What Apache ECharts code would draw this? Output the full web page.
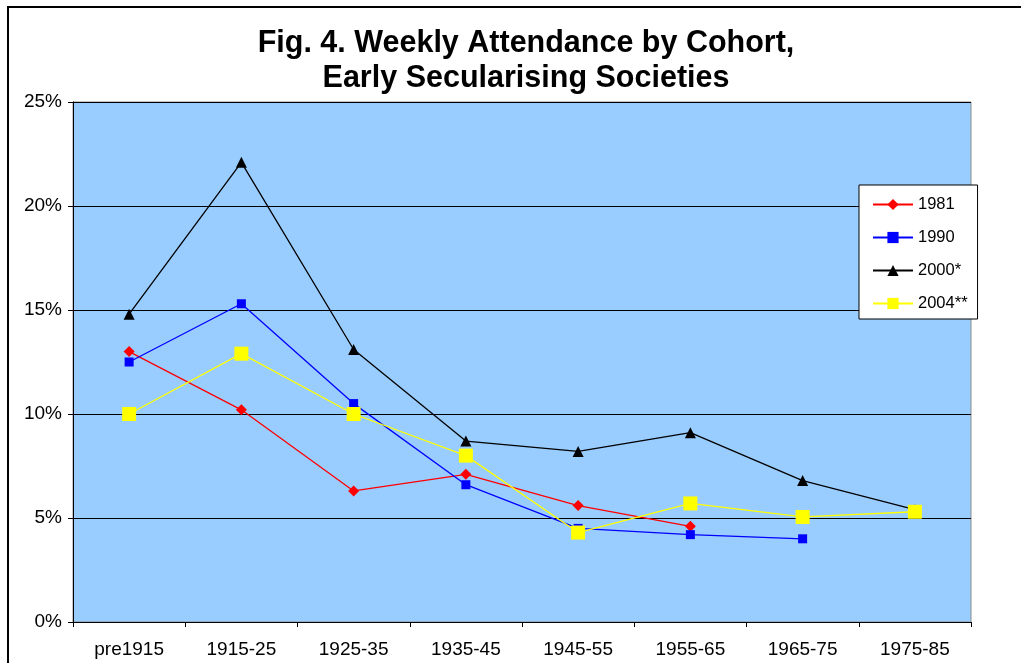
<!DOCTYPE html>
<html>
<head>
<meta charset="utf-8">
<script src="https://cdn.jsdelivr.net/npm/echarts@6/dist/echarts.min.js"></script>
<style>
    * { margin: 0; padding: 0; }
    body { background: #fff; }
    #chart { width: 1021px; height: 663px; }
</style>
</head>
<body>
<div id="chart"></div>
<script>
    // cohorts on the x axis
    var cohorts = ['pre1915', '1915-25', '1925-35', '1935-45', '1945-55', '1955-65', '1965-75', '1975-85'];
    // weekly attendance, % per survey wave
    var wave1981 = [13.0, 10.2, 6.3, 7.1, 5.6, 4.6];
    var wave1990 = [12.5, 15.3, 10.5, 6.6, 4.5, 4.2, 4.0];
    var wave2000 = [14.8, 22.1, 13.1, 8.7, 8.2, 9.1, 6.8, 5.4];
    var wave2004 = [10.0, 12.9, 10.0, 8.0, 4.3, 5.7, 5.05, 5.3];

    var font = 'Liberation Sans, Arial, sans-serif';

    function line(name, data, color, symbol, size) {
        return {
            name: name,
            type: 'line',
            data: data,
            symbol: symbol,
            symbolSize: size,
            showAllSymbol: true,
            color: color,
            lineStyle: { color: color, width: 1.3 },
            itemStyle: { color: color },
            emphasis: { disabled: true }
        };
    }

    var option = {
        animation: false,
        backgroundColor: '#fff',
        textStyle: { fontFamily: font },
        title: {
            text: 'Fig. 4. Weekly Attendance by Cohort,\nEarly Secularising Societies',
            left: 521,
            top: 21,
            textAlign: 'center',
            textStyle: { fontFamily: font, fontSize: 30.5, fontWeight: 'bold', color: '#000', lineHeight: 35 }
        },
        graphic: [{
            type: 'rect',
            z: -10,
            shape: { x: 8, y: 7, width: 1040, height: 700 },
            style: { fill: 'none', stroke: '#000', lineWidth: 2 }
        }],
        legend: {
            orient: 'vertical',
            left: 859,
            top: 185,
            padding: [11, 10, 7, 13],
            itemWidth: 40,
            itemHeight: 14,
            itemGap: 16,
            backgroundColor: '#fff',
            borderColor: '#000',
            borderWidth: 1,
            textStyle: { fontFamily: font, fontSize: 16.5, color: '#000' },
            data: ['1981', '1990', '2000*', '2004**']
        },
        grid: {
            left: 73,
            right: 50,
            top: 102,
            bottom: 41,
            show: true,
            backgroundColor: '#99CCFF',
            borderColor: '#8c8c8c',
            borderWidth: 1
        },
        xAxis: {
            type: 'category',
            data: cohorts,
            boundaryGap: true,
            axisLine: { lineStyle: { color: '#000', width: 1 } },
            axisTick: { show: true, length: 5, interval: 0, lineStyle: { color: '#000' } },
            axisLabel: { interval: 0, margin: 18, fontSize: 19, color: '#000', fontFamily: font }
        },
        yAxis: {
            type: 'value',
            min: 0,
            max: 25,
            interval: 5,
            axisLine: { show: true, lineStyle: { color: '#000', width: 1 } },
            axisTick: { show: true, length: 5, lineStyle: { color: '#000' } },
            axisLabel: { formatter: '{value}%', margin: 11, fontSize: 19, color: '#000', fontFamily: font },
            splitLine: { show: true, lineStyle: { color: '#000', width: 1 } }
        },
        series: [
            line('1981', wave1981, '#FF0000', 'diamond', 11),
            line('1990', wave1990, '#0000FF', 'rect', 9),
            line('2000*', wave2000, '#000000', 'triangle', 11),
            line('2004**', wave2004, '#FFFF00', 'rect', 14)
        ]
    };

    var myChart = echarts.init(document.getElementById('chart'));
    myChart.setOption(option);
</script>
</body>
</html>
